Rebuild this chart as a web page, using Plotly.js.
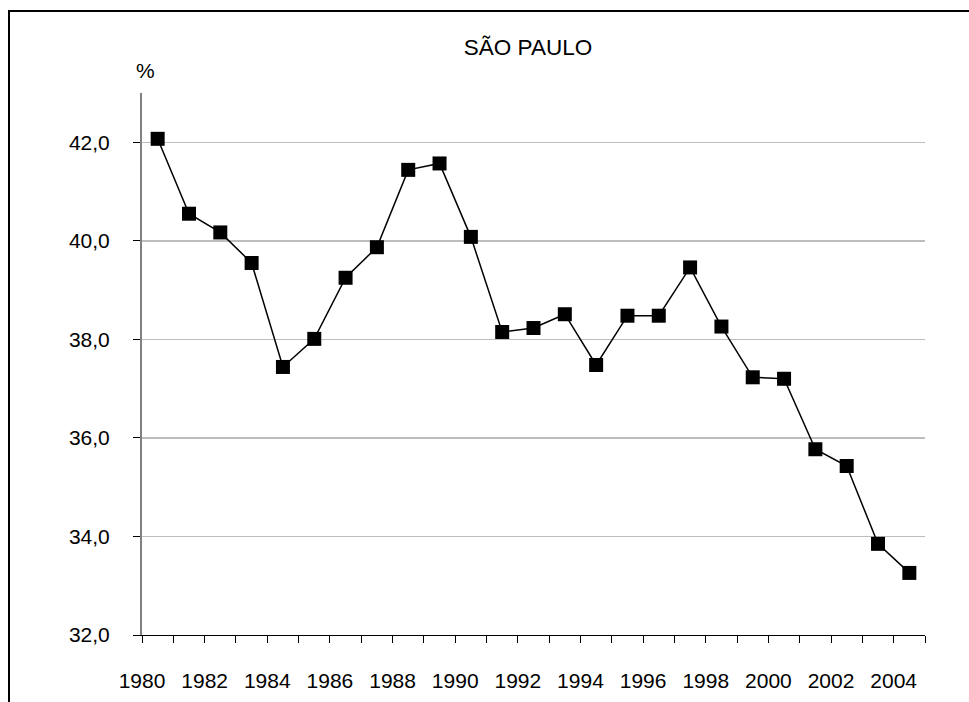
<!DOCTYPE html>
<html>
<head>
<meta charset="utf-8">
<script src="https://cdn.plot.ly/plotly-3.0.1.min.js"></script>
<style>
  html, body { margin:0; padding:0; overflow:hidden; background:#fff; }
  #chart { width:969px; height:702px; }
  #frame { position:absolute; left:8px; top:10px; width:2000px; height:2000px;
           border-left:2px solid #000; border-top:2px solid #000; pointer-events:none; }
</style>
</head>
<body>
<div id="chart"></div>
<div id="frame"></div>
<script>
const years = [1980,1981,1982,1983,1984,1985,1986,1987,1988,1989,1990,1991,1992,
               1993,1994,1995,1996,1997,1998,1999,2000,2001,2002,2003,2004];
const values = [42.07,40.55,40.17,39.55,37.44,38.01,39.25,39.87,41.44,41.57,40.08,38.15,38.23,
                38.51,37.48,38.48,38.48,39.46,38.26,37.23,37.20,35.77,35.43,33.85,33.26];
const titleText = "SÃO PAULO";
const unitLabel = "%";

// each year is drawn at the middle of its category slot (Excel-style category axis)
const xPos = years.map(y => y + 0.5);

const font = { family: "Arial, 'Liberation Sans', sans-serif", color: "#000" };

Plotly.newPlot("chart", [{
  x: xPos, y: values, type: "scatter", mode: "lines+markers",
  line: { color: "#000", width: 1.5 },
  marker: { symbol: "square", size: 14, color: "#000" },
  hoverinfo: "skip"
}], {
  width: 969, height: 702,
  margin: { l: 141.5, r: 44, t: 93, b: 66.7 },
  paper_bgcolor: "#fff", plot_bgcolor: "#fff",
  separators: ",.",
  showlegend: false,
  title: { text: titleText, font: Object.assign({ size: 22.5 }, font),
           x: 528/969, xanchor: "center", y: 1 - 47/702, yanchor: "middle" },
  xaxis: {
    type: "linear", range: [1980, 2005],
    tick0: 1980, dtick: 2, tickformat: "d",
    ticks: "outside", ticklen: 7, tickcolor: "#000", tickwidth: 1,
    minor: { dtick: 1, tick0: 1980, ticks: "outside", ticklen: 7, tickcolor: "#000", tickwidth: 1, showgrid: false },
    showline: true, linecolor: "#000", linewidth: 1,
    showgrid: false, zeroline: false,
    tickfont: Object.assign({ size: 21 }, font),
    ticklabelstandoff: 20
  },
  yaxis: {
    range: [32, 43], tick0: 32, dtick: 2, tickformat: ".1f",
    ticks: "outside", ticklen: 7, tickcolor: "#000", tickwidth: 1,
    showline: true, linecolor: "#808080", linewidth: 2,
    showgrid: true, gridcolor: "#bdbdbd", gridwidth: 1.5,
    zeroline: false,
    tickfont: Object.assign({ size: 21 }, font),
    ticklabelstandoff: 19
  },
  annotations: [{
    text: unitLabel, xref: "paper", yref: "paper",
    x: (145 - 141.5) / (969 - 141.5 - 44), y: 1 + (93 - 70.5) / (702 - 93 - 66.7),
    xanchor: "center", yanchor: "middle", showarrow: false,
    font: Object.assign({ size: 21 }, font)
  }]
}, { staticPlot: true, displayModeBar: false });
</script>
</body>
</html>
